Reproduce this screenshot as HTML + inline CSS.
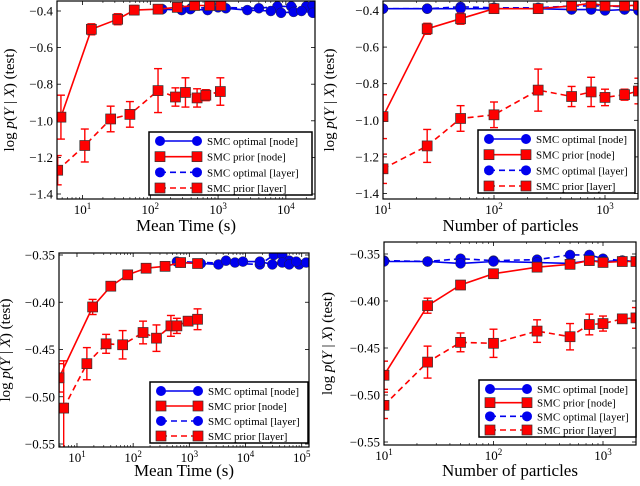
<!DOCTYPE html>
<html><head><meta charset="utf-8"><style>
body{margin:0;background:#fff;width:640px;height:481px;overflow:hidden}
svg{font-family:"Liberation Serif",serif}
</style></head><body>
<svg id="s" width="640" height="481"></svg>
<script>
// ---- data: panel A (time, top) ----
const aNodeOptX=[150,290,390,700,1300,2700,6000,8500,13000,17000,25000];
const aNodeOptY=[-0.39,-0.395,-0.39,-0.395,-0.385,-0.395,-0.40,-0.41,-0.405,-0.40,-0.41];
const aLayerOptX=[400,1000,4000,7500,12000,20000,25000];
const aLayerOptY=[-0.385,-0.38,-0.385,-0.375,-0.375,-0.375,-0.37];
const aNodePriX=[4.8,13.5,33,58,130,250,450,750,1100];
const aNodePriY=[-0.98,-0.5,-0.445,-0.395,-0.39,-0.38,-0.37,-0.37,-0.37];
const aNodePriE=[0.12,0.03,0.03,0.025,0.02,0.02,0.02,0.02,0.02];
const aLayerPriX=[4.3,10.8,26,50,130,235,330,490,660,1080];
const aLayerPriY=[-1.27,-1.135,-0.99,-0.965,-0.835,-0.87,-0.845,-0.875,-0.86,-0.84];
const aLayerPriE=[0.08,0.09,0.07,0.07,0.12,0.05,0.08,0.05,0.03,0.075];
// ---- panel B (particles, top) ----
const particles=[10,25,50,100,250,500,750,1000,1500,2000];
const bNodeOptY=[-0.39,-0.39,-0.39,-0.39,-0.39,-0.395,-0.395,-0.40,-0.395,-0.40];
const bLayerOptY=[-0.39,-0.39,-0.38,-0.385,-0.385,-0.375,-0.375,-0.375,-0.38,-0.375];
const bNodePriY=[-0.98,-0.5,-0.445,-0.39,-0.39,-0.375,-0.36,-0.375,-0.375,-0.37];
const bNodePriE=[0.12,0.03,0.03,0.025,0.02,0.02,0.02,0.02,0.02,0.02];
const bLayerPriY=[-1.265,-1.14,-0.99,-0.97,-0.835,-0.87,-0.845,-0.875,-0.86,-0.84];
const bLayerPriE=[0.08,0.09,0.07,0.07,0.115,0.055,0.08,0.045,0.03,0.07];
// ---- panel C (time, bottom) ----
const cNodeOptX=[700,1600,3300,4500,6500,9000,18000,30000,45000,60000,80000,120000];
const cNodeOptY=[-0.358,-0.359,-0.36,-0.356,-0.358,-0.357,-0.357,-0.36,-0.358,-0.36,-0.357,-0.358];
const cLayerOptX=[600,18000,32000,45000,60000,90000];
const cLayerOptY=[-0.357,-0.36,-0.35,-0.35,-0.356,-0.36];
const cNodePriX=[4.8,19,40,80,170,370,700,1400];
const cNodePriY=[-0.48,-0.405,-0.383,-0.371,-0.364,-0.362,-0.358,-0.359];
const cNodePriE=[0.015,0.008,0.003,0.003,0.003,0.003,0.004,0.003];
const cLayerPriX=[5.8,15,33,65,150,260,470,600,950,1400];
const cLayerPriY=[-0.512,-0.465,-0.444,-0.445,-0.432,-0.438,-0.425,-0.425,-0.42,-0.418];
const cLayerPriE=[0.05,0.017,0.01,0.015,0.012,0.014,0.011,0.008,0.004,0.011];
// ---- panel D (particles, bottom) ----
const dNodeOptY=[-0.358,-0.358,-0.36,-0.358,-0.359,-0.36,-0.357,-0.358,-0.357,-0.358];
const dLayerOptY=[-0.357,-0.358,-0.355,-0.357,-0.356,-0.351,-0.351,-0.355,-0.357,-0.358];
const dNodePriY=[-0.479,-0.405,-0.383,-0.371,-0.364,-0.361,-0.357,-0.359,-0.358,-0.358];
const dNodePriE=[0.015,0.008,0.003,0.003,0.003,0.003,0.003,0.003,0.003,0.003];
const dLayerPriY=[-0.511,-0.465,-0.444,-0.445,-0.432,-0.438,-0.425,-0.424,-0.419,-0.418];
const dLayerPriE=[0.014,0.017,0.01,0.015,0.012,0.014,0.011,0.008,0.004,0.011];
const topTicks=[-0.4,-0.6,-0.8,-1.0,-1.2,-1.4];
const topTickLabels=["\u22120.4","\u22120.6","\u22120.8","\u22121.0","\u22121.2","\u22121.4"];
const botTicks=[-0.35,-0.40,-0.45,-0.50,-0.55];
const botTickLabels=["\u22120.35","\u22120.40","\u22120.45","\u22120.50","\u22120.55"];

const NS="http://www.w3.org/2000/svg",S=document.getElementById('s');
function mk(t,a,p){const e=document.createElementNS(NS,t);for(const k in a)e.setAttribute(k,a[k]);(p||S).appendChild(e);return e;}
const BLUE="#0000ee",RED="#ff0000";

function panel(P){
 const g=mk('g',{});
 
 
 const lx=v=>P.x0+(Math.log10(v)-P.l0)/(P.l1-P.l0)*(P.x1-P.x0);
 const ly=v=>P.ya+(v-P.va)/(P.vb-P.va)*(P.yb-P.ya);
 const cp='c'+P.name;
 const d=mk('defs',{},g);const c=mk('clipPath',{id:cp},d);
 mk('rect',{x:P.x0,y:P.y0,width:P.x1-P.x0,height:P.y1-P.y0},c);
 P.ticks.forEach((t,i)=>{const y=ly(t);
  mk('line',{x1:P.x0,x2:P.x0+4,y1:y,y2:y,stroke:'#000','stroke-width':0.8},g);
  mk('line',{x1:P.x1,x2:P.x1-4,y1:y,y2:y,stroke:'#000','stroke-width':0.8},g);
  const tx=mk('text',{x:P.x0-4,y:y+4.5,'font-size':13,'text-anchor':'end'},g);tx.textContent=P.tickLabels[i];
  
  
 });
 for(let e=Math.ceil(P.l0);e<=Math.floor(P.l1);e++){const x=lx(Math.pow(10,e));
  mk('line',{x1:x,x2:x,y1:P.y1,y2:P.y1-4,stroke:'#000','stroke-width':0.8},g);
  mk('line',{x1:x,x2:x,y1:P.y0,y2:P.y0+4,stroke:'#000','stroke-width':0.8},g);
  const tx=mk('text',{x:x,y:P.y1+15,'font-size':13,'text-anchor':'middle'},g);
  tx.innerHTML='10<tspan dy="-5" font-size="9">'+e+'</tspan>';
  
  
  for(let m=2;m<10;m++){const xm=lx(m*Math.pow(10,e));if(xm>P.x0&&xm<P.x1){
   mk('line',{x1:xm,x2:xm,y1:P.y1,y2:P.y1-2,stroke:'#000','stroke-width':0.6},g);
   mk('line',{x1:xm,x2:xm,y1:P.y0,y2:P.y0+2,stroke:'#000','stroke-width':0.6},g);}}
  for(let m=2;m<10;m++){const xm=lx(m*Math.pow(10,e-1));if(xm>P.x0&&xm<P.x1&&e===Math.ceil(P.l0)){
   mk('line',{x1:xm,x2:xm,y1:P.y1,y2:P.y1-2,stroke:'#000','stroke-width':0.6},g);}}
 }
 const pg=mk('g',{'clip-path':'url(#'+cp+')'},g);
 P.series.forEach(s=>{
  const sg=mk('g',{},pg);
  
  
  const pts=s.x.map((v,i)=>lx(v).toFixed(1)+','+ly(s.y[i]).toFixed(1)).join(' ');
  if(s.e) s.x.forEach((v,i)=>{const x=lx(v),ya=ly(s.y[i]-s.e[i]),yb=ly(s.y[i]+s.e[i]);
   mk('line',{x1:x,x2:x,y1:ya,y2:yb,stroke:s.c,'stroke-width':1.4},sg);
   mk('line',{x1:x-4,x2:x+4,y1:ya,y2:ya,stroke:s.c,'stroke-width':1.4},sg);
   mk('line',{x1:x-4,x2:x+4,y1:yb,y2:yb,stroke:s.c,'stroke-width':1.4},sg);});
  mk('polyline',{points:pts,fill:'none',stroke:s.c,'stroke-width':1.6,'stroke-dasharray':s.dash?'6,4':'none'},sg);
  s.x.forEach((v,i)=>{const x=lx(v),y=ly(s.y[i]);
   if(s.sq)mk('rect',{x:x-5,y:y-5,width:10,height:10,fill:s.c,stroke:'#333','stroke-width':0.7},sg);
   else mk('circle',{cx:x,cy:y,r:5,fill:s.c,stroke:'#222','stroke-width':0.4},sg);});
 });
 mk('rect',{x:P.x0,y:P.y0,width:P.x1-P.x0,height:P.y1-P.y0,fill:'none',stroke:'#000','stroke-width':1.2},g);
 const xl=mk('text',{x:(P.x0+P.x1)/2,y:P.xly,'font-size':17,'text-anchor':'middle'},g);xl.textContent=P.xlabel;
 
 
 const yl=mk('text',{x:0,y:0,'font-size':15,'text-anchor':'middle',transform:'translate('+(P.ylx)+','+((P.y0+P.y1)/2)+') rotate(-90)'},g);
 yl.innerHTML='log <tspan font-style="italic">p</tspan>(<tspan font-style="italic">Y</tspan> | <tspan font-style="italic">X</tspan>) (test)';
 
 
 const L=P.leg,lg=mk('g',{},g);
 
 
 mk('rect',{x:L[0],y:L[1],width:L[2],height:L[3],fill:'#fff',stroke:'#000','stroke-width':1.5},lg);
 const labs=['SMC optimal [node]','SMC prior [node]','SMC optimal [layer]','SMC prior [layer]'];
 const sty=[[BLUE,0,0],[RED,0,1],[BLUE,1,0],[RED,1,1]];
 labs.forEach((t,i)=>{const y=L[1]+9+i*(L[3]-16)/3,x1=L[0]+11,x2=L[0]+48;
  mk('line',{x1:x1,x2:x2,y1:y,y2:y,stroke:sty[i][0],'stroke-width':1.6,'stroke-dasharray':sty[i][1]?'6,4':'none'},lg);
  [x1,x2].forEach(x=>{if(sty[i][2])mk('rect',{x:x-5,y:y-5,width:10,height:10,fill:RED,stroke:'#333','stroke-width':0.7},lg);
   else mk('circle',{cx:x,cy:y,r:5,fill:BLUE},lg);});
  const tx=mk('text',{x:L[0]+58,y:y+4,'font-size':11},lg);tx.textContent=t;
  
  
 });
}
const R=(x,y,sq,dash,c,e,name)=>({x,y,sq,dash,c,e,name});
panel({name:'panel-time-top',x0:57,x1:315,y0:1,y1:199,l0:Math.log10(4.2),l1:4.43,ya:11,va:-0.4,yb:194,vb:-1.4,
 ticks:topTicks,tickLabels:topTickLabels,xlabel:'Mean Time (s)',xly:231,ylx:14,leg:[149,132,163,63],
 series:[R(aLayerOptX,aLayerOptY,0,1,BLUE,null,'opt-layer'),R(aNodeOptX,aNodeOptY,0,0,BLUE,null,'opt-node'),
  R(aLayerPriX,aLayerPriY,1,1,RED,aLayerPriE,'prior-layer'),R(aNodePriX,aNodePriY,1,0,RED,aNodePriE,'prior-node')]});
panel({name:'panel-particles-top',x0:383,x1:638,y0:1,y1:199,l0:1,l1:1+(638-383)/111,ya:10.5,va:-0.4,yb:193.5,vb:-1.4,
 ticks:topTicks,tickLabels:topTickLabels,xlabel:'Number of particles',xly:231,ylx:334,leg:[478,130,157,63],
 series:[R(particles,bLayerOptY,0,1,BLUE,null,'opt-layer'),R(particles,bNodeOptY,0,0,BLUE,null,'opt-node'),
  R(particles,bLayerPriY,1,1,RED,bLayerPriE,'prior-layer'),R(particles,bNodePriY,1,0,RED,bNodePriE,'prior-node')]});
panel({name:'panel-time-bottom',x0:59,x1:309,y0:253,y1:447,l0:0.68,l1:5.13,ya:255,va:-0.35,yb:444,vb:-0.55,
 ticks:botTicks,tickLabels:botTickLabels,xlabel:'Mean Time (s)',xly:476,ylx:10,leg:[150,382,158,61],
 series:[R(cLayerOptX,cLayerOptY,0,1,BLUE,null,'opt-layer'),R(cNodeOptX,cNodeOptY,0,0,BLUE,null,'opt-node'),
  R(cLayerPriX,cLayerPriY,1,1,RED,cLayerPriE,'prior-layer'),R(cNodePriX,cNodePriY,1,0,RED,cNodePriE,'prior-node')]});
panel({name:'panel-particles-bottom',x0:384,x1:636,y0:242,y1:445,l0:1,l1:1+(636-384)/109.5,ya:254,va:-0.35,yb:442,vb:-0.55,
 ticks:botTicks,tickLabels:botTickLabels,xlabel:'Number of particles',xly:476,ylx:332,leg:[479,380,157,57],
 series:[R(particles,dLayerOptY,0,1,BLUE,null,'opt-layer'),R(particles,dNodeOptY,0,0,BLUE,null,'opt-node'),
  R(particles,dLayerPriY,1,1,RED,dLayerPriE,'prior-layer'),R(particles,dNodePriY,1,0,RED,dNodePriE,'prior-node')]});
</script>
</body></html>
